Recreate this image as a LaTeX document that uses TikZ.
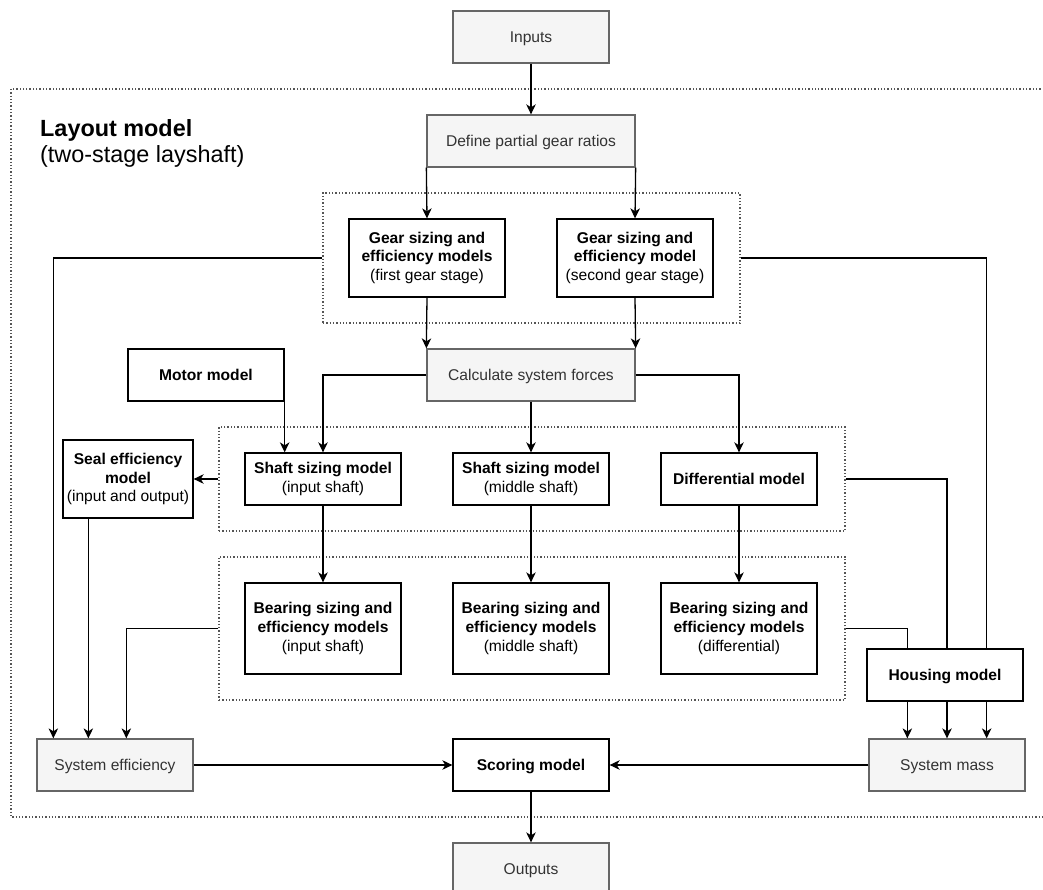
\documentclass[tikz,border=0pt]{standalone}
\usepackage{fontspec}
\setmainfont{Liberation Sans}
\usetikzlibrary{arrows.meta,calc}
\definecolor{grayfill}{HTML}{F5F5F5}
\definecolor{graystroke}{HTML}{666666}
\definecolor{graytext}{HTML}{333333}
\definecolor{dotcol}{HTML}{555555}
\newcommand{\boxfont}{\fontsize{15.6}{18.7}\selectfont}
% invisible strut spanning the full ascender and descender of a line
\newcommand{\linestrut}{\rule[-0.212em]{0pt}{1.117em}}
\begin{document}
\begin{tikzpicture}[x=1pt,y=-1pt,
  boxbase/.style={rectangle, line width=1.3pt, minimum width=156,
    minimum height=52, inner sep=0pt, font=\boxfont, align=center,
    execute at begin node={\linestrut}, execute at end node={\linestrut}},
  gbox/.style={boxbase, draw=graystroke, fill=grayfill, text=graytext},
  wbox/.style={boxbase, draw=black, fill=white, text=black},
  dotbox/.style={rectangle, draw=dotcol, line width=1.2pt,
    dash pattern=on 1.3pt off 2pt, inner sep=0pt},
  conn/.style={draw=black, line width=1.3pt},
  arr/.style={conn, -{Stealth[length=10pt, width=9.5pt, inset=3pt]}},
  titletext/.style={anchor=base west, inner sep=0pt,
    font=\fontsize{23.4}{28}\selectfont}
]
\path[use as bounding box, clip] (0,0) rectangle (1043,890);

% outer frame of the layout model
\draw[dotbox] (11,89) rectangle (1060,817);
\node[titletext] (title) at (40,136.5) {\textbf{Layout model}};
\node[titletext] (subtitle) at (40,162.5) {(two-stage layshaft)};

% grouping frames
\node[dotbox, minimum width=417, minimum height=130] (grpgear) at (531.5,258) {};
\node[dotbox, minimum width=626, minimum height=104] (grpshaft) at (532,479) {};
\node[dotbox, minimum width=626, minimum height=143] (grpbear) at (532,628.5) {};

% process boxes
\node[gbox] (inputs) at (531,37) {Inputs};
\node[gbox, minimum width=208] (define) at (531,141) {Define partial gear ratios};
\node[wbox, minimum height=78] (gear1) at (427,258)
  {\textbf{Gear sizing and}\\\textbf{efficiency models}\\(first gear stage)};
\node[wbox, minimum height=78] (gear2) at (635,258)
  {\textbf{Gear sizing and}\\\textbf{efficiency model}\\(second gear stage)};
\node[gbox, minimum width=208] (calc) at (531,375) {Calculate system forces};
\node[wbox] (motor) at (206,375) {\textbf{Motor model}};
\node[wbox] (shaft1) at (323,479) {\textbf{Shaft sizing model}\\(input shaft)};
\node[wbox] (shaft2) at (531,479) {\textbf{Shaft sizing model}\\(middle shaft)};
\node[wbox] (diff) at (739,479) {\textbf{Differential model}};
\node[wbox, minimum width=130, minimum height=78] (seal) at (128,479)
  {\textbf{Seal efficiency}\\\textbf{model}\\(input and output)};
\node[wbox, minimum height=91] (bear1) at (323,628.5)
  {\textbf{Bearing sizing and}\\\textbf{efficiency models}\\(input shaft)};
\node[wbox, minimum height=91] (bear2) at (531,628.5)
  {\textbf{Bearing sizing and}\\\textbf{efficiency models}\\(middle shaft)};
\node[wbox, minimum height=91] (bear3) at (739,628.5)
  {\textbf{Bearing sizing and}\\\textbf{efficiency models}\\(differential)};
\node[gbox] (syseff) at (115,765) {System efficiency};
\node[wbox] (score) at (531,765) {\textbf{Scoring model}};
\node[gbox] (sysmass) at (947,765) {System mass};
\node[gbox] (outputs) at (531,869) {Outputs};

% entry points on the collecting boxes
\coordinate (e1) at ($(syseff.north west)+(17,0)$);
\coordinate (e2) at ($(syseff.north west)+(52,0)$);
\coordinate (e3) at ($(syseff.north west)+(90,0)$);
\coordinate (m1) at ($(sysmass.north west)+(39,0)$);
\coordinate (m2) at (sysmass.north);
\coordinate (m3) at ($(sysmass.north east)+(-39,0)$);

% connectors
\draw[arr] (inputs) -- (define);
\draw[arr] (define.south west) -- (gear1.north);
\draw[arr] (define.south east) -- (gear2.north);
\draw[arr] (gear1.south) -- (calc.north west);
\draw[arr] (gear2.south) -- (calc.north east);
\draw[arr] (grpgear.west) -| (e1);
\draw[arr] (grpgear.east) -| (m3);
\draw[arr] (calc.west) -| (shaft1.north);
\draw[arr] (calc.south) -- (shaft2.north);
\draw[arr] (calc.east) -| (diff.north);
\draw[arr] (motor.south east) -- (motor.south east |- shaft1.north);
\draw[arr] (grpshaft.west) -- (seal.east |- grpshaft.west);
\draw[arr] (grpshaft.east) -| (m2);
\draw[arr] (shaft1) -- (bear1);
\draw[arr] (shaft2) -- (bear2);
\draw[arr] (diff) -- (bear3);
\draw[arr] (e2 |- seal.south) -- (e2);
\draw[arr] (grpbear.west) -| (e3);
\draw[arr] (grpbear.east) -| (m1);
\draw[arr] (syseff) -- (score);
\draw[arr] (sysmass) -- (score);
\draw[arr] (score) -- (outputs);

% housing model sits over the mass connectors
\node[wbox] (housing) at (945,675) {\textbf{Housing model}};
\end{tikzpicture}
\end{document}
